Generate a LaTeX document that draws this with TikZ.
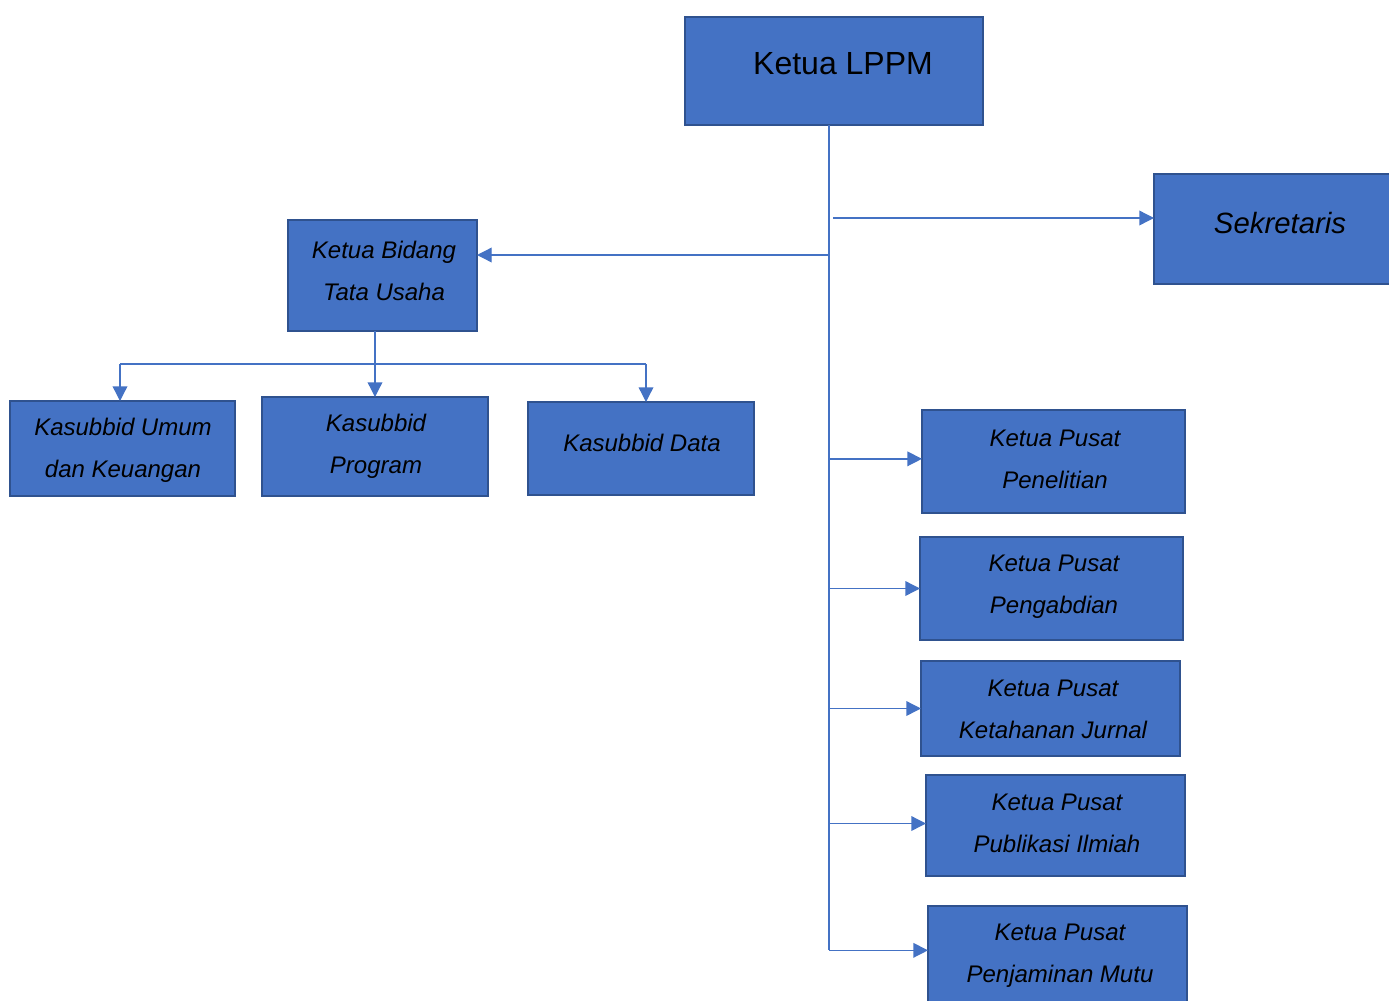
\documentclass[tikz,border=0pt]{standalone}
\usepackage{fontspec}
\setmainfont{Liberation Sans}
\usetikzlibrary{arrows.meta}

\definecolor{boxblue}{RGB}{68,114,196}
\definecolor{boxedge}{RGB}{47,82,143}

\tikzset{every picture/.style={line width=0.75pt}}
\tikzset{
  unitbox/.style={draw=boxedge, fill=boxblue, line width=1.6pt, inner sep=0pt, outer sep=0pt},
  unittext/.style={align=center, text=black, font=\fontsize{18}{31.5}\selectfont\itshape},
  link/.style={draw=boxblue, line width=1pt},
  linkarrow/.style={link, -{Triangle[length=11pt,width=11pt]}}
}

\begin{document}
\begin{tikzpicture}[x=0.75pt,y=0.75pt,yscale=-1,xscale=1]
\useasboundingbox (0,0) rectangle (1389,1000);

%Shape: Rectangle
\node [unitbox, minimum width=223.5pt, minimum height=81pt] (lppm) at (834,71) {};
%Shape: Rectangle
\node [unitbox, minimum width=189pt, minimum height=82.5pt] (sek) at (1280,229) {};
%Shape: Rectangle
\node [unitbox, minimum width=141.75pt, minimum height=83.25pt] (tu) at (382.5,275.5) {};
%Shape: Rectangle
\node [unitbox, minimum width=168.75pt, minimum height=71.25pt] (umum) at (122.5,448.5) {};
%Shape: Rectangle
\node [unitbox, minimum width=169.5pt, minimum height=74.25pt] (prog) at (375,446.5) {};
%Shape: Rectangle
\node [unitbox, minimum width=169.5pt, minimum height=69.75pt] (data) at (641,448.5) {};
%Shape: Rectangle
\node [unitbox, minimum width=197.25pt, minimum height=77.25pt] (pen) at (1053.5,461.5) {};
%Shape: Rectangle
\node [unitbox, minimum width=197.25pt, minimum height=77.25pt] (abdi) at (1051.5,588.5) {};
%Shape: Rectangle
\node [unitbox, minimum width=194.25pt, minimum height=71.25pt] (jurnal) at (1050.5,708.5) {};
%Shape: Rectangle
\node [unitbox, minimum width=194.25pt, minimum height=75.75pt] (publik) at (1055.5,825.5) {};
%Shape: Rectangle
\node [unitbox, minimum width=194.25pt, minimum height=76.5pt] (mutu) at (1057.5,957) {};

%Straight Lines
\coordinate (trunk) at (829,125);
\coordinate (sekfrom) at (833,218);
\coordinate (tufrom) at (829,255);
\coordinate (busl) at (120,364);
\coordinate (busr) at (646,364);
\draw [link] (trunk) -- ([yshift=-5pt]trunk |- mutu.west);
\draw [linkarrow] (sekfrom) -- (sekfrom -| sek.west);
\draw [linkarrow] (tufrom) -- (tufrom -| tu.east);
%Straight Lines
\draw [linkarrow] (prog.north |- tu.south) -- (prog.north);
\draw [link] (busl) -- (busr);
\draw [linkarrow] (busl) -- (busl |- umum.north);
\draw [linkarrow] (busr) -- (busr |- data.north);
%Straight Lines
\draw [linkarrow] ([yshift=-2pt]trunk |- pen.west) -- ([yshift=-2pt]pen.west);
\draw [linkarrow] (trunk |- abdi.west) -- (abdi.west);
\draw [linkarrow] (trunk |- jurnal.west) -- (jurnal.west);
\draw [linkarrow] ([yshift=-1.5pt]trunk |- publik.west) -- ([yshift=-1.5pt]publik.west);
\draw [linkarrow] ([yshift=-5pt]trunk |- mutu.west) -- ([yshift=-5pt]mutu.west);

% Text Node
\node [text=black, font=\fontsize{24}{28}\selectfont] (lppmtext) at (843,64) {Ketua LPPM};
% Text Node
\node [unittext, font=\fontsize{22}{26}\selectfont\itshape] (sektext) at (1280,223) {Sekretaris};
% Text Node
\node [unittext] (tutext) at (384,271) {Ketua Bidang\\Tata Usaha};
% Text Node
\node [unittext] (umumtext) at (123,450) {Kasubbid Umum\\dan Keuangan};
% Text Node
\node [unittext] (progtext) at (376,446.5) {Kasubbid\\Program};
% Text Node
\node [unittext] (datatext) at (642,443) {Kasubbid Data};
% Text Node
\node [unittext] (pentext) at (1055,459) {Ketua Pusat\\Penelitian};
% Text Node
\node [unittext] (abditext) at (1054,587) {Ketua Pusat\\Pengabdian};
% Text Node
\node [unittext] (jurnaltext) at (1053,709) {Ketua Pusat\\Ketahanan Jurnal};
% Text Node
\node [unittext] (publiktext) at (1057,823) {Ketua Pusat\\Publikasi Ilmiah};
% Text Node
\node [unittext] (mututext) at (1060,956) {Ketua Pusat\\Penjaminan Mutu};

\end{tikzpicture}
\end{document}
